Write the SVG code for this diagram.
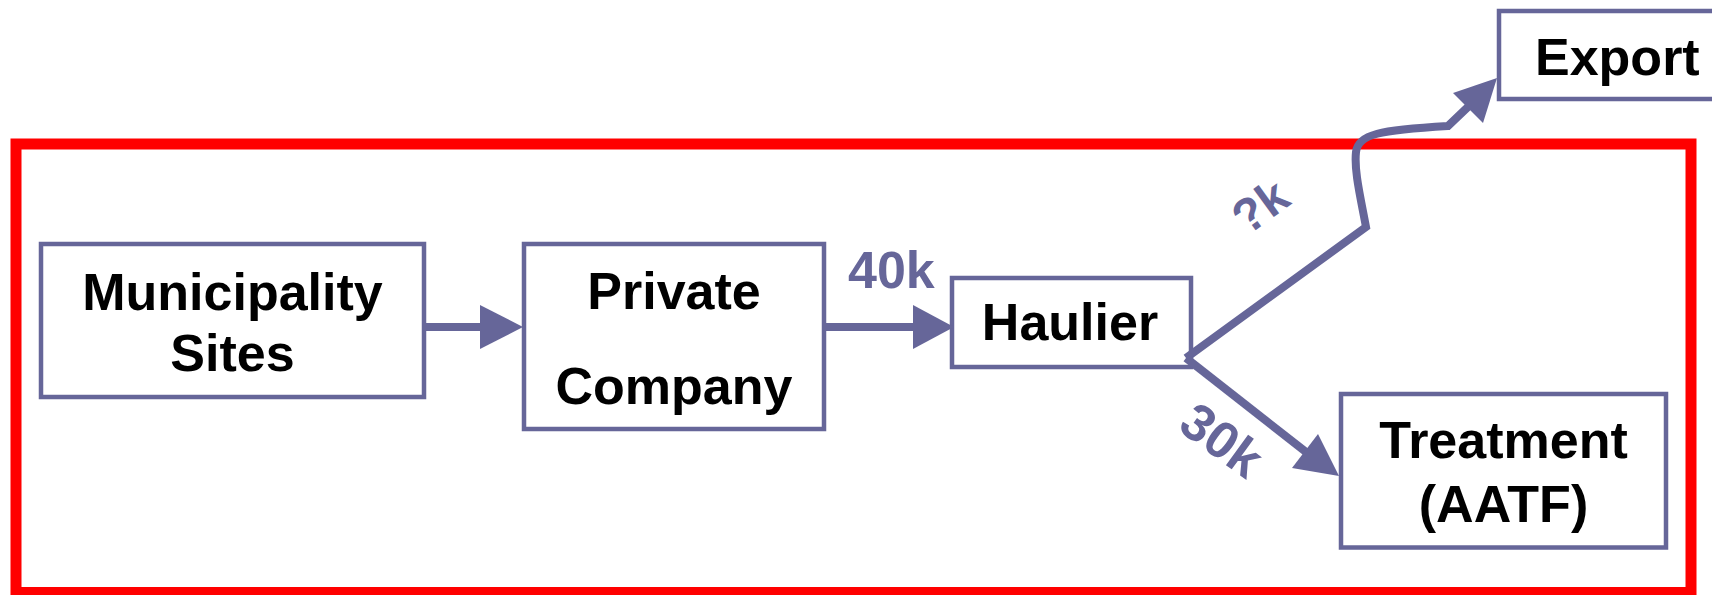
<svg xmlns="http://www.w3.org/2000/svg" width="1712" height="595" viewBox="0 0 1712 595">
  <style>
    .box { fill: #ffffff; stroke: #666699; stroke-width: 4.5; }
    .lbl { font-family: "Liberation Sans", Arial, Helvetica, sans-serif; font-weight: bold; font-size: 52px; fill: #000000; text-anchor: middle; }
    .qty { font-family: "Liberation Sans", Arial, Helvetica, sans-serif; font-weight: bold; font-size: 52px; fill: #666699; }
    .wire { fill: none; stroke: #666699; stroke-width: 8; stroke-linejoin: miter; }
    .head { fill: #666699; stroke: none; }
  </style>

  <rect width="1712" height="595" fill="#ffffff"/>

  <!-- system boundary -->
  <rect id="boundary" x="16" y="144" width="1675" height="448.5" fill="none" stroke="#ff0000" stroke-width="11"/>

  <g id="municipality">
    <rect class="box" x="41" y="244" width="383" height="153"/>
    <text class="lbl" x="232.5" y="310">Municipality</text>
    <text class="lbl" x="232.5" y="371">Sites</text>
  </g>

  <g id="private-company">
    <rect class="box" x="524" y="244" width="300" height="185"/>
    <text class="lbl" x="674" y="309">Private</text>
    <text class="lbl" x="674" y="404">Company</text>
  </g>

  <g id="haulier">
    <rect class="box" x="952" y="278" width="239" height="89"/>
    <text class="lbl" x="1070" y="340">Haulier</text>
  </g>

  <g id="export">
    <!-- box runs off the right-hand edge of the canvas -->
    <rect class="box" x="1499" y="11" width="240" height="88"/>
    <text class="lbl" x="1535" y="75" style="text-anchor:start">Export</text>
  </g>

  <g id="treatment">
    <rect class="box" x="1341" y="394" width="325" height="153.5"/>
    <text class="lbl" x="1503.5" y="458">Treatment</text>
    <text class="lbl" x="1503.5" y="522">(AATF)</text>
  </g>

  <g id="connectors">
    <!-- Municipality Sites -> Private Company -->
    <line class="wire" x1="424" y1="327" x2="482" y2="327"/>
    <polygon class="head" points="480,305 523,327 480,349"/>

    <!-- Private Company -> Haulier -->
    <line class="wire" x1="824" y1="327" x2="915" y2="327"/>
    <polygon class="head" points="913,305 954,327 913,349"/>
    <text class="qty" x="848" y="288">40k</text>

    <!-- Haulier -> Export -->
    <path class="wire" d="M1186,358 L1366,227 C1360,195 1354,170 1356,152 C1358,134 1380,130 1448,126 L1470,105"/>
    <polygon class="head" points="1453,93 1497,78 1483,123"/>
    <text class="qty" x="1260" y="223" style="text-anchor:middle;font-size:48px" transform="rotate(-36 1260 206)">?k</text>

    <!-- Haulier -> Treatment -->
    <line class="wire" x1="1186" y1="358" x2="1306" y2="452"/>
    <polygon class="head" points="1318,434 1339,476 1292,468"/>
    <text class="qty" x="1222" y="458" style="text-anchor:middle" transform="rotate(36 1222 440)">30k</text>
  </g>
</svg>
